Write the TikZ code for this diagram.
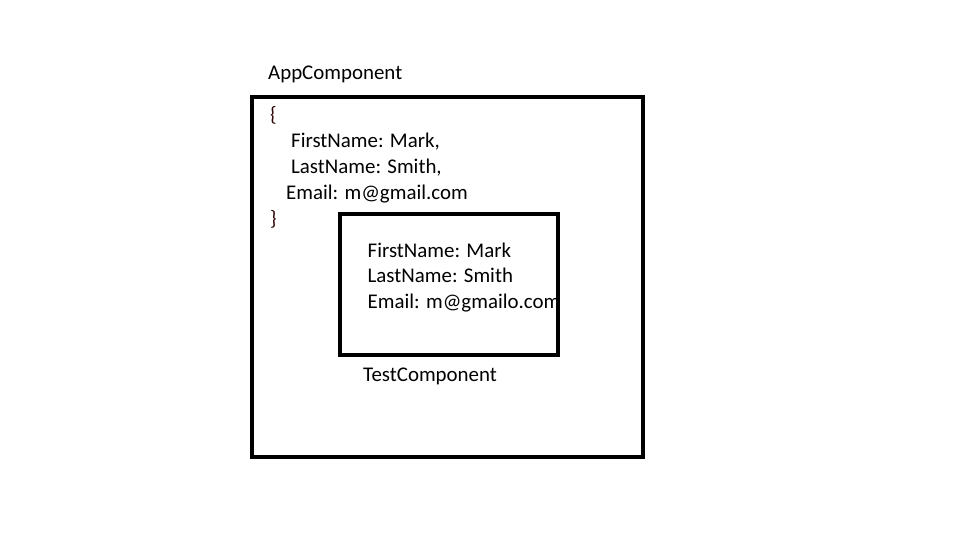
\documentclass[tikz,border=0pt]{standalone}
\usepackage{fontspec}
\setmainfont{Carlito}
\definecolor{bracecol}{RGB}{45,8,8}
\begin{document}
\begin{tikzpicture}[x=1pt,y=-1pt,
  lbl/.style={anchor=base west,inner sep=0pt,font=\fontsize{20.9}{25}\selectfont},
  frame/.style={draw=black,line width=4.2pt}]
\useasboundingbox[fill=white] (0,0) rectangle (962,535);
% labels
\node[lbl] (app) at (268,79.5) {AppComponent};
\node[lbl,text=bracecol] (ob) at (270,121.7) {\{};
\node[lbl] (o1) at (291,147.7) {FirstName: Mark,};
\node[lbl] (o2) at (291,173.3) {LastName: Smith,};
\node[lbl] (o3) at (286,199.3) {Email: m@gmail.com};
\node[lbl,text=bracecol] (cb) at (270,225.3) {\}};
\node[lbl] (i1) at (367.5,257.3) {FirstName: Mark};
\node[lbl] (i2) at (367.5,282.7) {LastName: Smith};
\node[lbl] (i3) at (367.5,308.3) {Email: m@gmailo.com};
\node[lbl] (test) at (363,381) {TestComponent};
% frames
\draw[frame] (252,97) rectangle (643,457);
\draw[frame] (340,214) rectangle (558,355);
\end{tikzpicture}
\end{document}
